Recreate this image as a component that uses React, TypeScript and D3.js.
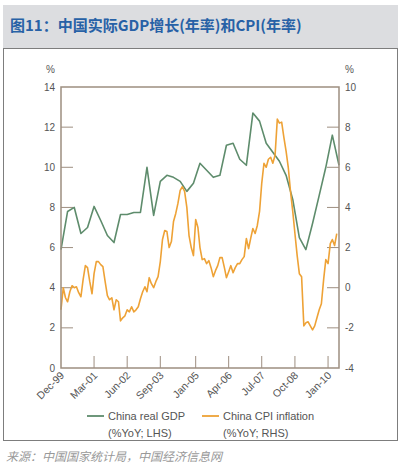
import * as d3 from "d3";

// China real GDP, %YoY, quarterly (Dec-99 .. Jun-10), left axis
const gdpStart = new Date(1999, 11, 1);
const gdp = [
  5.9, 7.8, 8.0, 6.7, 7.0, 8.05, 7.35, 6.6, 6.25, 7.65, 7.65, 7.75, 7.75,
  10.0, 7.6, 9.3, 9.6, 9.5, 9.3, 8.8, 9.2, 10.2, 9.85, 9.5, 9.6, 11.1, 11.2,
  10.4, 10.1, 12.7, 12.3, 11.2, 10.75, 10.3, 9.6, 8.4, 6.5, 5.9, 7.2, 8.6,
  10.0, 11.6, 10.1,
];

// China CPI inflation, %YoY, monthly (Dec-99 .. Jun-10), right axis
const cpiStart = new Date(1999, 11, 1);
const cpi = [
  -1.1, 0.0, -0.5, -0.7, -0.2, 0.1, 0.0, 0.05, -0.25, -0.45, 0.4, 1.1, 1.0,
  0.3, -0.3, 0.7, 1.3, 1.3, 1.15, 1.05, 0.3, -0.4, -0.6, -0.5, -1.1, -0.6,
  -0.7, -1.65, -1.5, -1.4, -1.1, -1.2, -0.95, -1.2, -1.1, -0.95, -0.55, -0.2,
  0.05, -0.2, 0.5, 0.2, 0.0, 0.3, 0.55, 1.3, 2.4, 2.85, 2.8, 2.0, 2.3, 3.3,
  3.7, 4.2, 4.85, 5.03, 4.8, 4.0, 2.6, 2.0, 1.6, 3.4, 3.0, 2.0, 1.4, 1.45,
  1.2, 1.35, 1.0, 0.55, 0.85, 1.1, 1.5, 1.5, 1.0, 0.5, 0.8, 1.1, 0.75, 1.0,
  1.2, 1.2, 1.4, 1.55, 2.45, 1.95, 2.5, 2.95, 2.7, 3.1, 3.8, 5.2, 6.2, 6.0,
  6.4, 6.5, 6.2, 6.6, 8.4, 8.2, 8.25, 7.5, 6.8, 6.0, 4.8, 3.8, 2.7, 1.6, 0.7,
  0.55, -1.9, -1.75, -1.7, -1.9, -2.1, -1.9, -1.5, -1.1, -0.8, 0.4, 1.4, 1.2,
  2.2, 2.4, 2.1, 2.7,
];

const xTickLabels = ["Dec-99", "Mar-01", "Jun-02", "Sep-03", "Jan-05", "Apr-06", "Jul-07", "Oct-08", "Jan-10"];
const leftTicks = [0, 2, 4, 6, 8, 10, 12, 14];
const rightTicks = [-4, -2, 0, 2, 4, 6, 8, 10];

const title = "图11：中国实际GDP增长(年率)和CPI(年率)";
const source = "来源：中国国家统计局，中国经济信息网";
const legendItems = [
  { name: "China real GDP", note: "(%YoY; LHS)", color: "#5e8c6c" },
  { name: "China CPI inflation", note: "(%YoY; RHS)", color: "#eea236" },
];

const W = 405;
const H = 470;
const plot = { left: 61, right: 339, top: 87, bottom: 368 };
const frameColor = "#9d8e80";
const textColor = "#555";
const latin = "'Liberation Sans', Arial, sans-serif";
const cjk = "'Noto Sans CJK SC', sans-serif";

const parseTick = d3.timeParse("%b-%y");

export default function App() {
  const x = d3
    .scaleTime()
    .domain([new Date(1999, 11, 1), new Date(2010, 5, 1)])
    .range([plot.left, plot.right]);
  const yL = d3.scaleLinear().domain([0, 14]).range([plot.bottom, plot.top]);
  const yR = d3.scaleLinear().domain([-4, 10]).range([plot.bottom, plot.top]);

  const gdpPts = gdp.map((v, i) => ({ d: d3.timeMonth.offset(gdpStart, i * 3), v }));
  const cpiPts = cpi.map((v, i) => ({ d: d3.timeMonth.offset(cpiStart, i), v }));

  const gdpLine = d3
    .line<{ d: Date; v: number }>()
    .x((p) => x(p.d))
    .y((p) => yL(p.v));
  const cpiLine = d3
    .line<{ d: Date; v: number }>()
    .x((p) => x(p.d))
    .y((p) => yR(p.v));

  return (
    <svg
      width={W}
      height={H}
      style={{ position: "absolute", left: 0, top: 0, background: "#fff" }}
    >
      {/* header band */}
      <rect x={3} y={5} width={395} height={43} fill="#dcdde0" />
      <text x={10} y={31} fontFamily={cjk} fontWeight="bold" fontSize={15} fill="#2761a6">
        {title}
      </text>
      <rect x={3.5} y={48.5} width={394} height={392} fill="#fff" stroke="#7d7d7d" strokeWidth={1} />

      {/* left axis */}
      <text x={55} y={73} textAnchor="end" fontFamily={latin} fontSize={10} fill={textColor}>%</text>
      {leftTicks.map((t) => (
        <g key={"l" + t}>
          <text x={55} y={yL(t) + 3.5} textAnchor="end" fontFamily={latin} fontSize={10} fill={textColor}>
            {t}
          </text>
          {t > 0 && t < 14 && (
            <line x1={plot.left} x2={plot.left + 12} y1={yL(t)} y2={yL(t)} stroke={frameColor} strokeWidth={1} />
          )}
        </g>
      ))}

      {/* right axis */}
      <text x={345} y={73} fontFamily={latin} fontSize={10} fill={textColor}>%</text>
      {rightTicks.map((t) => (
        <g key={"r" + t}>
          <text x={345} y={yR(t) + 3.5} fontFamily={latin} fontSize={10} fill={textColor}>
            {t}
          </text>
          {t > -4 && t < 10 && (
            <line x1={plot.right - 12} x2={plot.right} y1={yR(t)} y2={yR(t)} stroke={frameColor} strokeWidth={1} />
          )}
        </g>
      ))}

      {/* x axis */}
      {xTickLabels.map((lab, i) => {
        const tx = x(parseTick(lab) as Date);
        return (
          <g key={lab}>
            {i > 0 && (
              <line x1={tx} x2={tx} y1={plot.bottom} y2={plot.bottom - 12} stroke={frameColor} strokeWidth={1} />
            )}
            <text
              transform={`translate(${tx + 4},${plot.bottom + 8}) rotate(-45)`}
              textAnchor="end"
              fontFamily={latin}
              fontSize={10.5}
              fill={textColor}
            >
              {lab}
            </text>
          </g>
        );
      })}

      {/* series */}
      <path d={gdpLine(gdpPts) ?? ""} fill="none" stroke={legendItems[0].color} strokeWidth={1.6} strokeLinejoin="round" />
      <path d={cpiLine(cpiPts) ?? ""} fill="none" stroke={legendItems[1].color} strokeWidth={1.6} strokeLinejoin="round" />

      {/* frame */}
      <rect
        x={plot.left}
        y={plot.top}
        width={plot.right - plot.left}
        height={plot.bottom - plot.top}
        fill="none"
        stroke={frameColor}
        strokeWidth={1.5}
      />

      {/* legend */}
      {legendItems.map((it, i) => {
        const lx = i === 0 ? 87 : 202;
        return (
          <g key={it.name}>
            <line x1={lx} x2={lx + 17} y1={416} y2={416} stroke={it.color} strokeWidth={1.8} />
            <text x={lx + 21} y={420} fontFamily={latin} fontSize={11} fill={textColor}>
              {it.name}
            </text>
            <text x={lx + 21} y={437} fontFamily={latin} fontSize={11} fill={textColor}>
              {it.note}
            </text>
          </g>
        );
      })}

      <text x={6} y={461} fontFamily={cjk} fontStyle="italic" fontSize={12} fill="#999">
        {source}
      </text>
    </svg>
  );
}
